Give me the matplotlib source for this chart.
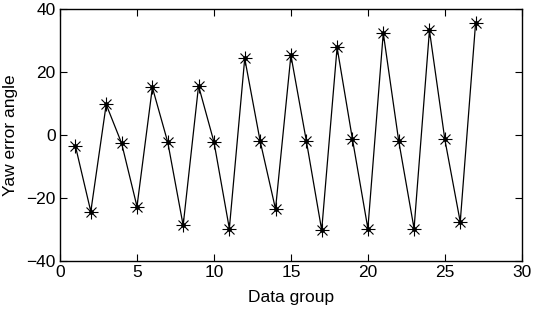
import matplotlib
matplotlib.use("Agg")
import matplotlib.pyplot as plt

plt.rcParams['font.family'] = ['Liberation Sans', 'DejaVu Sans']

groups = list(range(1, 28))
yaw = [-3.5, -24.3, 9.7, -2.6, -22.7, 15.1, -2.3, -28.7, 15.6, -2.2,
       -29.7, 24.3, -1.9, -23.5, 25.3, -1.8, -30.2, 27.8, -1.4, -29.7,
       32.4, -1.8, -29.7, 33.2, -1.4, -27.6, 35.7]

fig = plt.figure(figsize=(5.33, 3.10), dpi=100)
ax = fig.add_axes([0.1126, 0.158, 0.8664, 0.813])
ax.plot(groups, yaw, color='black', linewidth=0.9)
ax.plot(groups, yaw, linestyle='none', marker='+', markersize=10, color='black', markeredgewidth=0.8)
ax.plot(groups, yaw, linestyle='none', marker='x', markersize=7, color='black', markeredgewidth=0.8)
ax.plot(groups, yaw, linestyle='none', marker='o', markersize=2.5, color='black')

ax.set_xlim(0, 30)
ax.set_ylim(-40, 40)
ax.set_xticks([0, 5, 10, 15, 20, 25, 30])
ax.set_yticks([-40, -20, 0, 20, 40])
ax.tick_params(direction='in', top=True, right=True, labelsize=12.5, length=5, pad=3)
for s in ax.spines.values():
    s.set_linewidth(1.0)
ax.set_xlabel('Data group', fontsize=12.5, labelpad=7)
ax.set_ylabel('Yaw error angle', fontsize=12.5, labelpad=6)

fig.savefig('out.png', dpi=100)
